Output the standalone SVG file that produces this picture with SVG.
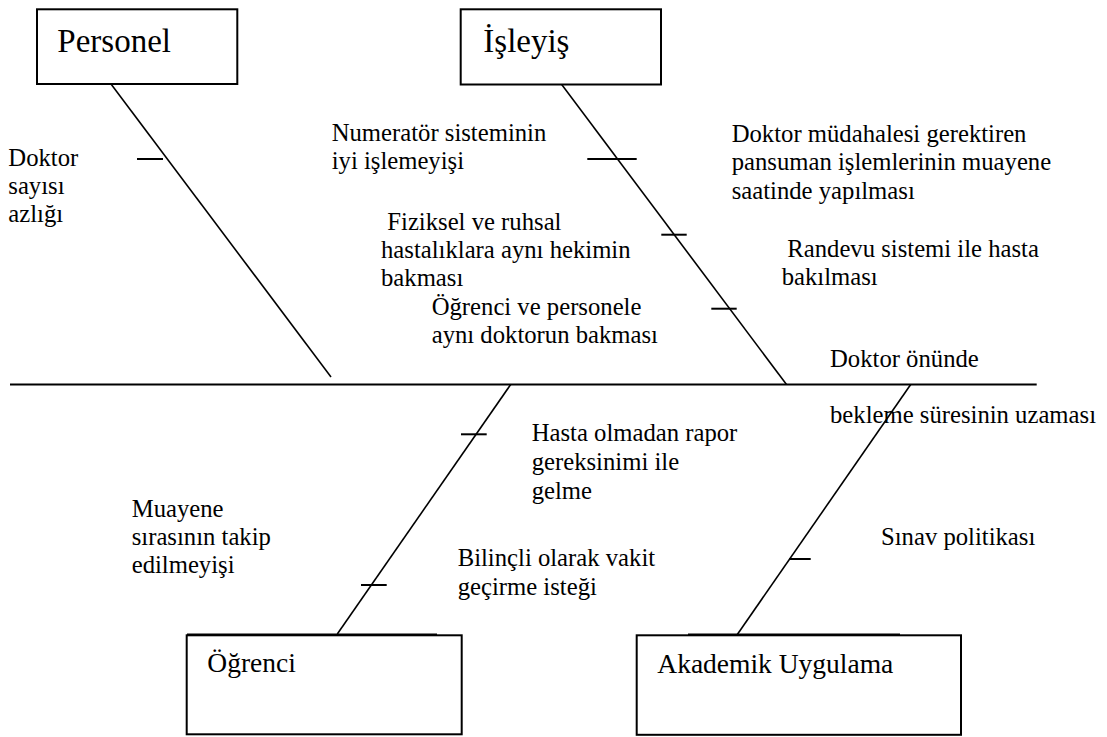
<svg xmlns="http://www.w3.org/2000/svg" width="1107" height="737" viewBox="0 0 1107 737">
  <style>
    .box { fill: #ffffff; stroke: #000000; stroke-width: 2; }
    .bone { stroke: #000000; stroke-width: 1.6; fill: none; }
    .spine { stroke: #000000; stroke-width: 2.2; fill: none; }
    .tick { stroke: #000000; stroke-width: 2; fill: none; }
    .title { font-size: 33px; fill: #000000; }
    .title2 { font-size: 27.5px; fill: #000000; }
    .cause { font-size: 24.7px; fill: #000000; }
  </style>

  <rect width="1107" height="737" fill="#ffffff"/>

  <!-- connectors: spine, category bones and cause ticks -->
  <g id="connectors">
    <line class="spine" x1="10" y1="384.5" x2="1036.7" y2="384.5"/>
    <line class="bone" x1="111" y1="84" x2="331" y2="377"/>
    <line class="bone" x1="561.7" y1="84.5" x2="786.5" y2="384.5"/>
    <line class="bone" x1="510.7" y1="384.5" x2="337.3" y2="634"/>
    <line class="bone" x1="910.7" y1="384.5" x2="737.3" y2="634.5"/>
    <line class="tick" x1="137" y1="159" x2="163" y2="159"/>
    <line class="tick" x1="587.3" y1="159" x2="636.7" y2="159"/>
    <line class="tick" x1="661.3" y1="234.7" x2="686.7" y2="234.7"/>
    <line class="tick" x1="711.3" y1="308.7" x2="736.7" y2="308.7"/>
    <line class="tick" x1="461" y1="434.3" x2="486.7" y2="434.3"/>
    <line class="tick" x1="361" y1="585" x2="386.7" y2="585"/>
    <line class="tick" x1="789" y1="559" x2="810.7" y2="559"/>
  </g>

  <g id="node-personel">
    <rect class="box" x="37" y="9.3" width="200.3" height="74.7"/>
    <text class="title" font-family="Liberation Serif" x="57.3" y="51.7">Personel</text>
  </g>

  <g id="node-isleyis">
    <rect class="box" x="460.7" y="9.3" width="200.3" height="75.2"/>
    <text class="title" font-family="Liberation Serif" x="483.3" y="51.5">İşleyiş</text>
  </g>

  <g id="node-ogrenci">
    <line class="bone" x1="187" y1="634.3" x2="437" y2="634.3"/>
    <rect class="box" x="186.7" y="635.3" width="275" height="99"/>
    <text class="title2" font-family="Liberation Serif" x="207.3" y="671.7">Öğrenci</text>
  </g>

  <g id="node-akademik">
    <line class="bone" x1="688" y1="634.3" x2="900" y2="634.3"/>
    <rect class="box" x="636.7" y="635.3" width="324.3" height="99.5"/>
    <text class="title2" font-family="Liberation Serif" x="657.3" y="673.3">Akademik Uygulama</text>
  </g>

  <!-- cause labels -->
  <g id="causes-personel">
    <text class="cause" font-family="Liberation Serif" x="8.3" y="166">Doktor</text>
    <text class="cause" font-family="Liberation Serif" x="8.3" y="194">sayısı</text>
    <text class="cause" font-family="Liberation Serif" x="8.3" y="222">azlığı</text>
  </g>

  <g id="causes-isleyis">
    <text class="cause" font-family="Liberation Serif" x="331.7" y="140.7">Numeratör sisteminin</text>
    <text class="cause" font-family="Liberation Serif" x="331.7" y="169.3">iyi işlemeyişi</text>
    <text class="cause" font-family="Liberation Serif" x="387.3" y="229.5">Fiziksel ve ruhsal</text>
    <text class="cause" font-family="Liberation Serif" x="381" y="258">hastalıklara aynı hekimin</text>
    <text class="cause" font-family="Liberation Serif" x="381" y="286.3">bakması</text>
    <text class="cause" font-family="Liberation Serif" x="431.7" y="315">Öğrenci ve personele</text>
    <text class="cause" font-family="Liberation Serif" x="431.7" y="343">aynı doktorun bakması</text>
    <text class="cause" font-family="Liberation Serif" x="731.7" y="141.7">Doktor müdahalesi gerektiren</text>
    <text class="cause" font-family="Liberation Serif" x="731.7" y="170.3">pansuman işlemlerinin muayene</text>
    <text class="cause" font-family="Liberation Serif" x="731.7" y="199">saatinde yapılması</text>
    <text class="cause" font-family="Liberation Serif" x="787.3" y="256.7">Randevu sistemi ile hasta</text>
    <text class="cause" font-family="Liberation Serif" x="781.7" y="285">bakılması</text>
  </g>

  <g id="effect">
    <text class="cause" font-family="Liberation Serif" x="830" y="366.7">Doktor önünde</text>
    <text class="cause" font-family="Liberation Serif" x="830" y="423.3">bekleme süresinin uzaması</text>
  </g>

  <g id="causes-ogrenci">
    <text class="cause" font-family="Liberation Serif" x="531.7" y="441">Hasta olmadan rapor</text>
    <text class="cause" font-family="Liberation Serif" x="531.7" y="470">gereksinimi ile</text>
    <text class="cause" font-family="Liberation Serif" x="531.7" y="499">gelme</text>
    <text class="cause" font-family="Liberation Serif" x="131.7" y="516.7">Muayene</text>
    <text class="cause" font-family="Liberation Serif" x="131.7" y="545">sırasının takip</text>
    <text class="cause" font-family="Liberation Serif" x="131.7" y="573.3">edilmeyişi</text>
    <text class="cause" font-family="Liberation Serif" x="457.7" y="566">Bilinçli olarak vakit</text>
    <text class="cause" font-family="Liberation Serif" x="457.7" y="594.5">geçirme isteği</text>
  </g>

  <g id="causes-akademik">
    <text class="cause" font-family="Liberation Serif" x="881" y="545">Sınav politikası</text>
  </g>
</svg>
